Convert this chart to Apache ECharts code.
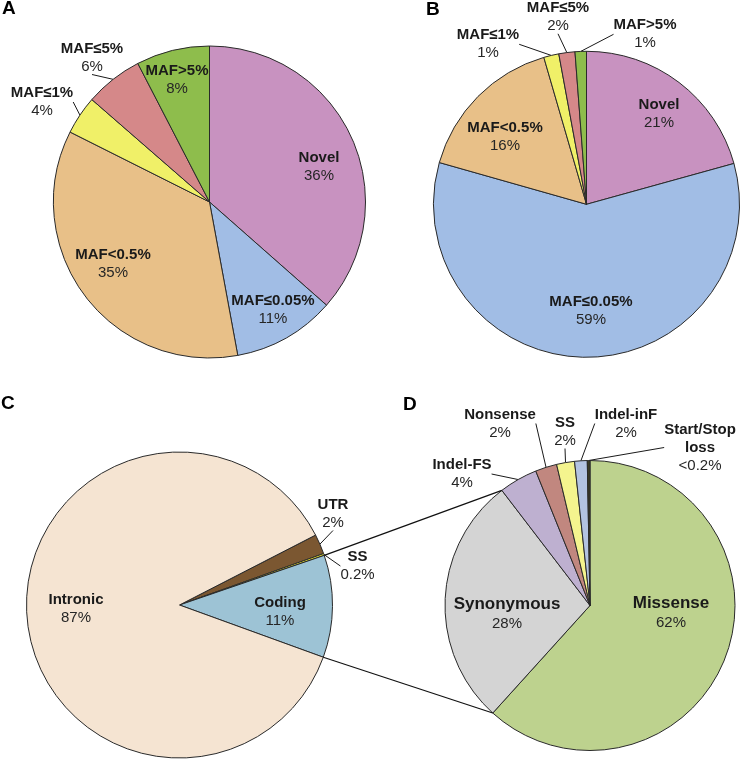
<!DOCTYPE html>
<html>
<head>
<meta charset="utf-8">
<script src="https://cdn.jsdelivr.net/npm/echarts@6/dist/echarts.min.js"></script>
<style>html,body{margin:0;padding:0;background:#fff;}#c{width:746px;height:762px;}</style>
</head>
<body>
<div id="c"></div>
<script>
// ---------- DATA ----------
const catA = ['Novel', 'MAF≤0.05%', 'MAF<0.5%', 'MAF≤1%', 'MAF≤5%', 'MAF>5%'];
const valA = [36.5, 10.6, 35.3, 4.0, 6.0, 7.6];
const pctA = ['36%', '11%', '35%', '4%', '6%', '8%'];

const catB = ['Novel', 'MAF≤0.05%', 'MAF<0.5%', 'MAF≤1%', 'MAF≤5%', 'MAF>5%'];
const valB = [20.7, 58.7, 16.1, 1.6, 1.7, 1.2];
const pctB = ['21%', '59%', '16%', '1%', '2%', '1%'];

const catC = ['UTR', 'SS', 'Coding', 'Intronic'];
const valC = [2.1, 0.2, 10.8, 86.9];
const pctC = ['2%', '0.2%', '11%', '87%'];

const catD = ['Missense', 'Synonymous', 'Indel-FS', 'Nonsense', 'SS', 'Indel-inF', 'Start/Stop\nloss'];
const valD = [61.7, 27.9, 4.3, 2.4, 2.0, 1.4, 0.3];
const pctD = ['62%', '28%', '4%', '2%', '2%', '2%', '<0.2%'];

const panelLetters = ['A', 'B', 'C', 'D'];

// ---------- STYLE / LAYOUT ----------
const FONT = '"Liberation Sans", Arial, sans-serif';
const colA = ['#C892C0', '#A1BDE5', '#E8C088', '#F0F068', '#D58889', '#8EBD4C'];
const colC = ['#7B5731', '#E8E030', '#9DC3D5', '#F5E4D2'];
const colD = ['#BDD28E', '#D4D4D4', '#BEB0D0', '#C1877F', '#F4F48E', '#B3C3E1', '#3a3a22'];

const pies = [
  { id: 'A', cats: catA, vals: valA, pcts: pctA, colors: colA, center: [209.5, 202], r: 156, start: 90,
    offs: [[109.5, -35], [63.5, 108], [-96.5, 62], [-167.5, -100], [-117.5, -144], [-32.5, -122]],
    lines: [3, 4], big: [] },
  { id: 'B', cats: catB, vals: valB, pcts: pctB, colors: colA, center: [586.5, 204.3], r: 153, start: 90,
    offs: [[72.5, -90], [4.5, 107], [-81.5, -67], [-98.5, -160], [-28.5, -187], [58.5, -170]],
    lines: [3, 4, 5], big: [] },
  { id: 'C', cats: catC, vals: valC, pcts: pctC, colors: colC, center: [179.5, 605], r: 153, start: 27.2,
    offs: [[153.5, -91], [178, -39], [100.5, 6.5], [-103.5, 4]],
    lines: [0, 1], big: [] },
  { id: 'D', cats: catD, vals: valD, pcts: pctD, colors: colD, center: [590, 605.5], r: 145, start: 90,
    offs: [[81, 6.5], [-83, 7.5], [-128, -131.5], [-90, -182], [-25, -173.5], [36, -182], [110, -158]],
    lines: [2, 3, 4, 5, 6], big: [0, 1] }
];

function makeSeries(p) {
  return {
    type: 'pie',
    name: p.id,
    center: p.center,
    radius: p.r,
    startAngle: p.start,
    clockwise: true,
    avoidLabelOverlap: false,
    animation: false,
    silent: true,
    itemStyle: { borderColor: '#2a2a2a', borderWidth: 1 },
    data: p.vals.map((v, i) => ({
      value: v,
      name: p.cats[i],
      itemStyle: { color: p.colors[i] },
      label: { position: 'outside' },
      labelLine: { show: p.lines.indexOf(i) >= 0 }
    })),
    label: {
      show: true,
      fontFamily: FONT,
      formatter: (prm) => {
        const i = prm.dataIndex;
        const big = p.big.indexOf(i) >= 0;
        const nameLines = p.cats[i].split('\n').map(s => '{' + (big ? 'B' : 'b') + '|' + s + '}');
        return nameLines.join('\n') + '\n{p|' + p.pcts[i] + '}';
      },
      rich: {
        b: { fontFamily: FONT, fontWeight: 'bold', fontSize: 15, lineHeight: 18, color: '#1a1a1a' },
        B: { fontFamily: FONT, fontWeight: 'bold', fontSize: 17, lineHeight: 22, color: '#1a1a1a' },
        p: { fontFamily: FONT, fontSize: 15, lineHeight: 18, color: '#262626' }
      }
    },
    labelLine: { length: 8, length2: 0, lineStyle: { color: '#1a1a1a', width: 1 } },
    labelLayout: (prm) => {
      const o = p.offs[prm.dataIndex];
      return { x: p.center[0] + o[0], y: p.center[1] + o[1], align: 'center', verticalAlign: 'middle' };
    }
  };
}

// connector lines between C (Coding slice) and D (Synonymous ... rest) computed from data
function boundaryPoint(p, cumIndex) {
  const total = p.vals.reduce((a, b) => a + b, 0);
  let cum = 0;
  for (let i = 0; i < cumIndex; i++) cum += p.vals[i];
  const ang = (p.start - 360 * cum / total) * Math.PI / 180;
  return [p.center[0] + p.r * Math.cos(ang), p.center[1] - p.r * Math.sin(ang)];
}
const pC = pies[2], pD = pies[3];
const cTop = boundaryPoint(pC, 2);   // SS | Coding
const cBot = boundaryPoint(pC, 3);   // Coding | Intronic
const dTop = boundaryPoint(pD, 2);   // Synonymous | Indel-FS
const dBot = boundaryPoint(pD, 1);   // Missense | Synonymous

const chart = echarts.init(document.getElementById('c'), null, { renderer: 'canvas' });
chart.setOption({
  backgroundColor: '#ffffff',
  animation: false,
  title: [
    { text: panelLetters[0], left: 2, top: -1 },
    { text: panelLetters[1], left: 426, top: 0 },
    { text: panelLetters[2], left: 1, top: 394 },
    { text: panelLetters[3], left: 403, top: 395 }
  ].map(t => Object.assign(t, { padding: 0, textStyle: { fontFamily: FONT, fontWeight: 'bold', fontSize: 19, color: '#000' } })),
  graphic: [
    { type: 'line', z: 10, shape: { x1: cTop[0], y1: cTop[1], x2: dTop[0], y2: dTop[1] }, style: { stroke: '#111', lineWidth: 1.2 } },
    { type: 'line', z: 10, shape: { x1: cBot[0], y1: cBot[1], x2: dBot[0], y2: dBot[1] }, style: { stroke: '#111', lineWidth: 1.2 } }
  ],
  series: pies.map(makeSeries)
});
</script>
</body>
</html>
